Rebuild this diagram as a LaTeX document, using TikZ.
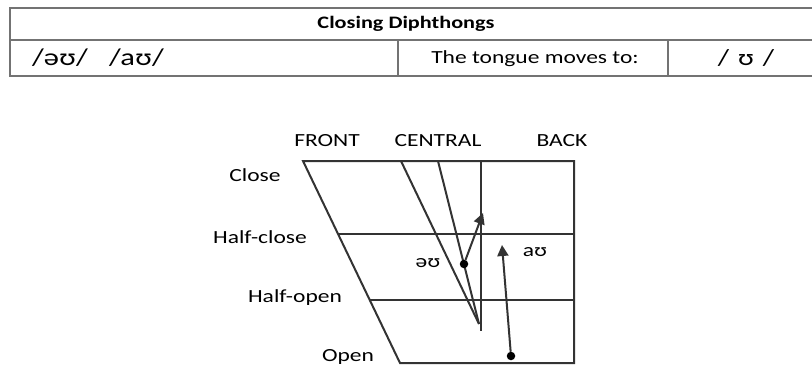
\documentclass[tikz,border=0pt]{standalone}
\usepackage{fontspec}
\setmainfont{Carlito}
\usetikzlibrary{arrows.meta}
\tikzset{
lbl/.style = {font=\fontsize{#1}{#1}\selectfont, xscale=1.27,
              inner sep=0pt, text=black},
lbl/.default = 18.5 % font size of the label
}
\tikzset{
dot/.style = {circle, fill, minimum size=#1,
              inner sep=0pt, outer sep=0pt},
dot/.default = 8.5pt % size of the circle diameter
}
\tikzset{
cell/.style = {draw=black!55, line width=2pt},
grid/.style = {draw=black!80, line width=2pt},
move/.style = {grid, -{Triangle[length=11pt,width=11pt]}}
}

\begin{document}
\begin{tikzpicture}[x=1pt,y=-1pt]
    \useasboundingbox (0,0) rectangle (812,367);

    % table on top
    \draw[cell] (812,8) -- (10,8) -- (10,76) -- (812,76);
    \draw[cell] (10,40) -- (812,40);
    \draw[cell] (398,40) -- (398,76);
    \draw[cell] (668,40) -- (668,76);
    \node[lbl=17.5, font=\fontsize{17.5}{17.5}\selectfont\bfseries](title) at (406,24) {Closing Diphthongs};
    \node[lbl=24](pair) at (98,58) {/əʊ/\hspace{0.7em}/aʊ/};
    \node[lbl=18.5, anchor=west](moves) at (431,59) {The tongue moves to:};
    \node[lbl=23](target) at (746,58) {/\hspace{0.3em}ʊ\hspace{0.3em}/};

    % vowel chart
    \coordinate (tl) at (303,161);
    \coordinate (tr) at (574,161);
    \coordinate (br) at (574,363);
    \coordinate (bl) at (400,363);
    \coordinate (hcL) at (338,234);
    \coordinate (hcR) at (574,234);
    \coordinate (hoL) at (370,300);
    \coordinate (hoR) at (574,300);
    \coordinate (cTop) at (481,161);
    \coordinate (cBot) at (481,331);
    \coordinate (leanA) at (401,161);
    \coordinate (leanB) at (438,161);
    \coordinate (meet) at (479,324);
    \draw[grid] (tl) -- (tr) -- (br) -- (bl) -- cycle;
    \draw[grid] (hcL) -- (hcR);
    \draw[grid] (hoL) -- (hoR);
    \draw[grid] (cTop) -- (cBot);
    \draw[grid] (leanA) -- (meet);
    \draw[grid] (leanB) -- (meet);

    \node[lbl](front) at (327,141) {FRONT};
    \node[lbl](central) at (438,141) {CENTRAL};
    \node[lbl](back) at (562,141) {BACK};
    \node[lbl](close) at (255,175) {Close};
    \node[lbl](halfclose) at (260,237) {Half-close};
    \node[lbl](halfopen) at (295,298) {Half-open};
    \node[lbl](open) at (348,357) {Open};

    % the two glides
    \node[dot](schwaDot) at (464,264) {};
    \coordinate (schwaEnd) at (483,213);
    \node[dot](aDot) at (511,356) {};
    \coordinate (aEnd) at (502,245);
    \draw[move] (schwaDot) -- (schwaEnd);
    \draw[move] (aDot) -- (aEnd);
    \node[lbl](schwaLbl) at (428,263) {əʊ};
    \node[lbl](aLbl) at (535,252) {aʊ};
\end{tikzpicture}
\end{document}
